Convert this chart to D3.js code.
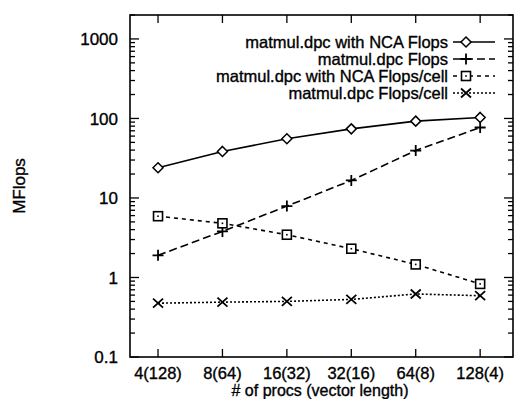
<!DOCTYPE html>
<html>
<head>
<meta charset="utf-8">
<script src="https://cdn.jsdelivr.net/npm/d3@7"></script>
<style>
  body { margin: 0; background: #fff; }
  svg { display: block; }
  text { font-family: "Liberation Sans", Arial, sans-serif; fill: #000; stroke: #000; stroke-width: 0.35px; }
</style>
</head>
<body>
<svg width="516" height="399"></svg>
<script>
var svg = d3.select("svg");

// data
var categories = ["4(128)", "8(64)", "16(32)", "32(16)", "64(8)", "128(4)"];
var ncaFlops = [24, 38.5, 55.5, 74, 92.5, 103];
var plainFlops = [1.9, 3.8, 7.9, 16.6, 39.5, 77];
var ncaFlopsCell = [5.9, 4.8, 3.45, 2.3, 1.46, 0.83];
var plainFlopsCell = [0.475, 0.49, 0.5, 0.53, 0.62, 0.59];
var yTicks = [0.1, 1, 10, 100, 1000];

var seriesNames = [
    "matmul.dpc with NCA Flops",
    "matmul.dpc Flops",
    "matmul.dpc with NCA Flops/cell",
    "matmul.dpc Flops/cell"
];

var series = [
    { name: seriesNames[0], values: ncaFlops, dash: null, mark: "diamond" },
    { name: seriesNames[1], values: plainFlops, dash: "8,4", mark: "plus" },
    { name: seriesNames[2], values: ncaFlopsCell, dash: "4,4", mark: "square" },
    { name: seriesNames[3], values: plainFlopsCell, dash: "2,2", mark: "cross" }
];

var plotLeft = 130, plotRight = 513, plotTop = 15, plotBottom = 357;
var FONT = 17;

var x = d3.scaleLinear().domain([-0.435, 5.51]).range([plotLeft, plotRight]);
var y = d3.scaleLog().domain([0.1, 2000]).range([plotBottom, plotTop]);

// frame
svg.append("rect")
    .attr("x", plotLeft).attr("y", plotTop)
    .attr("width", plotRight - plotLeft).attr("height", plotBottom - plotTop)
    .attr("fill", "none").attr("stroke", "#000").attr("stroke-width", 1.6);

// y ticks, major + minor, on both sides
var minor = [];
yTicks.forEach(function (d) {
    for (var k = 1; k <= 9; ++k) {
        if (d * k <= 2000) minor.push({ v: d * k, major: k === 1 });
    }
});
var tickG = svg.append("g").attr("stroke", "#000").attr("stroke-width", 1.3);
minor.forEach(function (t) {
    var len = t.major ? 9 : 5;
    tickG.append("line").attr("x1", plotLeft).attr("x2", plotLeft + len)
        .attr("y1", y(t.v)).attr("y2", y(t.v));
    tickG.append("line").attr("x1", plotRight).attr("x2", plotRight - len)
        .attr("y1", y(t.v)).attr("y2", y(t.v));
});

// x ticks bottom + top
categories.forEach(function (c, i) {
    tickG.append("line").attr("x1", x(i)).attr("x2", x(i))
        .attr("y1", plotBottom).attr("y2", plotBottom - 8);
    tickG.append("line").attr("x1", x(i)).attr("x2", x(i))
        .attr("y1", plotTop).attr("y2", plotTop + 8);
});

// y tick labels
svg.append("g").selectAll("text")
    .data(yTicks)
    .enter().append("text")
    .attr("x", 118)
    .attr("y", function (d) { return y(d); })
    .attr("dy", "0.36em")
    .attr("text-anchor", "end")
    .attr("font-size", FONT)
    .text(function (d) { return d; });

// x tick labels
svg.append("g").selectAll("text")
    .data(categories)
    .enter().append("text")
    .attr("x", function (d, i) { return x(i); })
    .attr("y", 379)
    .attr("text-anchor", "middle")
    .attr("font-size", 16.5)
    .text(function (d) { return d; });

// axis titles
svg.append("text")
    .attr("x", 320).attr("y", 396)
    .attr("text-anchor", "middle")
    .attr("font-size", 16)
    .text("# of procs (vector length)");

svg.append("text")
    .attr("transform", "translate(25,186) rotate(-90)")
    .attr("text-anchor", "middle")
    .attr("font-size", FONT)
    .text("MFlops");

function drawMark(g, kind, cx, cy) {
    if (kind === "diamond") {
        g.append("path")
            .attr("d", "M" + cx + "," + (cy - 5) + "L" + (cx + 5) + "," + cy +
                "L" + cx + "," + (cy + 5) + "L" + (cx - 5) + "," + cy + "Z")
            .attr("fill", "#fff").attr("stroke", "#000").attr("stroke-width", 1.5);
    } else if (kind === "plus") {
        g.append("path")
            .attr("d", "M" + (cx - 5.5) + "," + cy + "H" + (cx + 5.5) +
                "M" + cx + "," + (cy - 5.5) + "V" + (cy + 5.5))
            .attr("stroke", "#000").attr("stroke-width", 1.8);
    } else if (kind === "square") {
        g.append("rect")
            .attr("x", cx - 4.5).attr("y", cy - 4.5)
            .attr("width", 9).attr("height", 9)
            .attr("fill", "#fff").attr("stroke", "#000").attr("stroke-width", 1.6);
        g.append("rect")
            .attr("x", cx - 0.8).attr("y", cy - 0.8)
            .attr("width", 1.6).attr("height", 1.6).attr("fill", "#000");
    } else {
        g.append("path")
            .attr("d", "M" + (cx - 5) + "," + (cy - 4.5) + "L" + (cx + 5) + "," + (cy + 4.5) +
                "M" + (cx - 5) + "," + (cy + 4.5) + "L" + (cx + 5) + "," + (cy - 4.5))
            .attr("stroke", "#000").attr("stroke-width", 1.8);
    }
}

var line = d3.line()
    .x(function (d, i) { return x(i); })
    .y(function (d) { return y(d); });

series.forEach(function (s) {
    var g = svg.append("g");
    g.append("path")
        .attr("d", line(s.values))
        .attr("fill", "none")
        .attr("stroke", "#000")
        .attr("stroke-width", 1.6)
        .attr("stroke-dasharray", s.dash);
    s.values.forEach(function (v, i) {
        drawMark(g, s.mark, x(i), y(v));
    });
});

// legend
var legendY = [42, 59, 76, 93];
series.forEach(function (s, i) {
    var g = svg.append("g");
    g.append("text")
        .attr("x", 448).attr("y", legendY[i])
        .attr("dy", "0.36em")
        .attr("text-anchor", "end")
        .attr("font-size", 16.5)
        .text(s.name);
    g.append("line")
        .attr("x1", 453).attr("x2", 495)
        .attr("y1", legendY[i]).attr("y2", legendY[i])
        .attr("stroke", "#000").attr("stroke-width", 1.6)
        .attr("stroke-dasharray", s.dash);
    drawMark(g, s.mark, 466, legendY[i]);
});
</script>
</body>
</html>
